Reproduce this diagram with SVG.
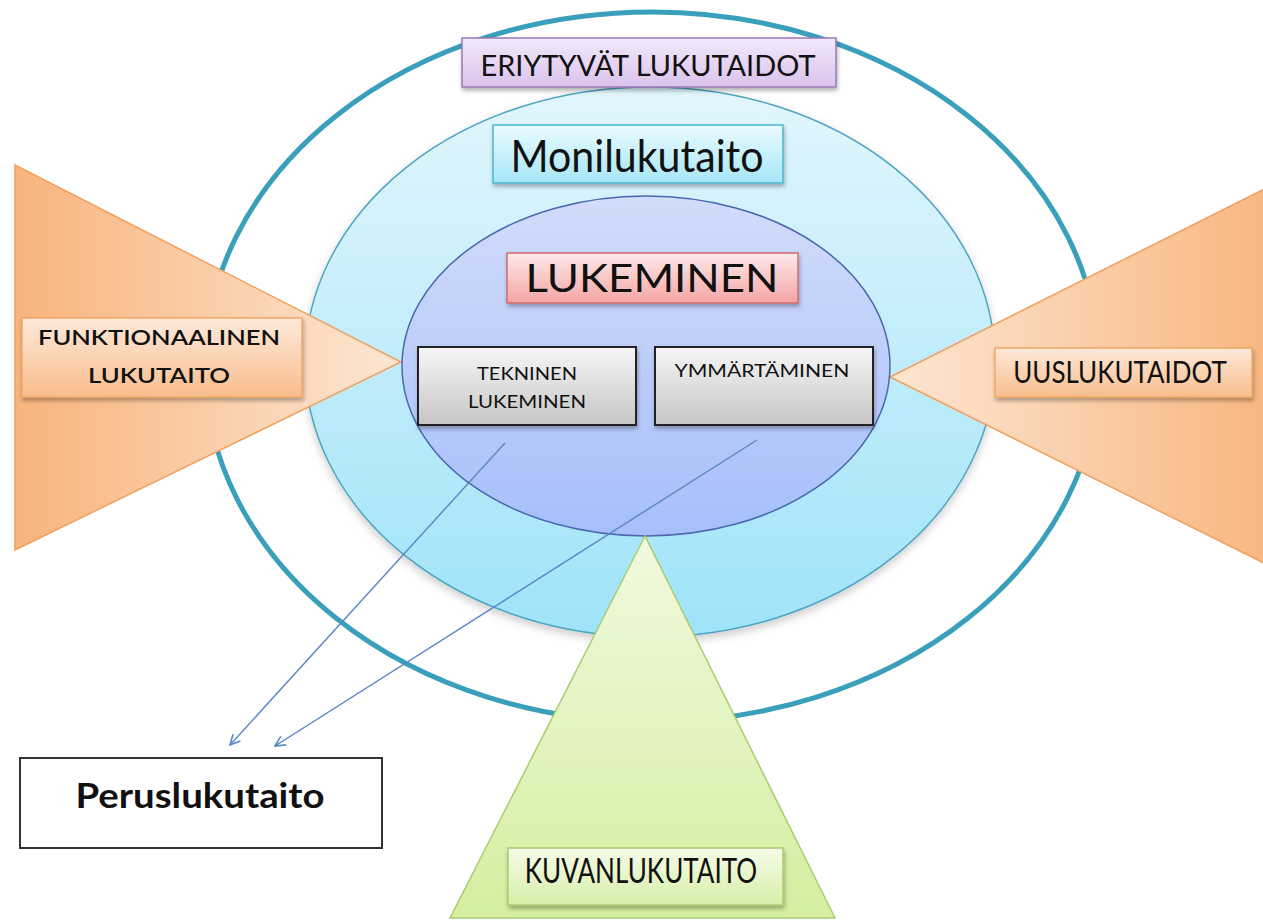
<svg xmlns="http://www.w3.org/2000/svg" width="1263" height="921" viewBox="0 0 1263 921">
<defs>
<style>
.lbl{font-family:Lato,"Open Sans","Liberation Sans",sans-serif;fill:#111;text-anchor:middle}
.box{stroke-width:1.5}
.conn{stroke:#5b86c5;stroke-width:1.4;fill:none}
</style>
<linearGradient id="gMid" x1="0" y1="0" x2="0" y2="1"><stop offset="0" stop-color="#e2f6fc"/><stop offset="1" stop-color="#9fe3f9"/></linearGradient>
<linearGradient id="gIn" x1="0" y1="0" x2="0" y2="1"><stop offset="0" stop-color="#d2dcfb"/><stop offset="1" stop-color="#a6bffa"/></linearGradient>
<linearGradient id="gOrL" x1="0" y1="0" x2="1" y2="0"><stop offset="0" stop-color="#f8b47c"/><stop offset="1" stop-color="#fde6d2"/></linearGradient>
<linearGradient id="gOrR" x1="0" y1="0" x2="1" y2="0"><stop offset="0" stop-color="#fde6d2"/><stop offset="1" stop-color="#f8b47c"/></linearGradient>
<linearGradient id="gGr" x1="0" y1="0" x2="0" y2="1"><stop offset="0" stop-color="#f1f9df"/><stop offset="1" stop-color="#d3efa0"/></linearGradient>
<linearGradient id="gPurp" x1="0" y1="0" x2="0" y2="1"><stop offset="0" stop-color="#f3e8fa"/><stop offset="1" stop-color="#d9c3ec"/></linearGradient>
<linearGradient id="gCyan" x1="0" y1="0" x2="0" y2="1"><stop offset="0" stop-color="#eafbff"/><stop offset="1" stop-color="#a6e6f7"/></linearGradient>
<linearGradient id="gPink" x1="0" y1="0" x2="0" y2="1"><stop offset="0" stop-color="#feeaea"/><stop offset="1" stop-color="#f4a4a4"/></linearGradient>
<linearGradient id="gGray" x1="0" y1="0" x2="0" y2="1"><stop offset="0" stop-color="#f6f6f6"/><stop offset="1" stop-color="#c6c6c6"/></linearGradient>
<linearGradient id="gOrBox" x1="0" y1="0" x2="0" y2="1"><stop offset="0" stop-color="#fee9da"/><stop offset="1" stop-color="#f8bd8c"/></linearGradient>
<linearGradient id="gGrBox" x1="0" y1="0" x2="0" y2="1"><stop offset="0" stop-color="#f6fbe8"/><stop offset="1" stop-color="#d6efa8"/></linearGradient>
<filter id="sh" x="-10%" y="-20%" width="120%" height="150%"><feDropShadow dx="1" dy="3" stdDeviation="2" flood-color="#000" flood-opacity="0.3"/></filter>
<filter id="shE" x="-10%" y="-10%" width="120%" height="125%"><feDropShadow dx="0" dy="4" stdDeviation="4" flood-color="#000" flood-opacity="0.2"/></filter>
<marker id="arr" viewBox="0 0 12 12" refX="11" refY="6" markerWidth="12" markerHeight="12" markerUnits="userSpaceOnUse" orient="auto"><path d="M1,1 L11,6 L1,11" fill="none" stroke="#5b86c5" stroke-width="1.6"/></marker>
</defs>

<g id="outer-ring">
<ellipse cx="652" cy="367" rx="447" ry="355" fill="none" stroke="#3a9fbb" stroke-width="5"/>
</g>
<g id="monilukutaito-ellipse">
<ellipse cx="650" cy="362" rx="345" ry="275" fill="url(#gMid)" stroke="#4ea4c2" stroke-width="1.5" filter="url(#shE)"/>
</g>
<g id="funktionaalinen-triangle">
<polygon points="15,165 15,550 401,362" fill="url(#gOrL)" stroke="#f0a060" stroke-width="1.5"/>
</g>
<g id="uuslukutaidot-triangle">
<polygon points="890,377 1290,176 1290,576" fill="url(#gOrR)" stroke="#f0a060" stroke-width="1.5"/>
</g>
<g id="lukeminen-ellipse">
<ellipse cx="646" cy="366" rx="244" ry="170" fill="url(#gIn)" stroke="#4a68b0" stroke-width="1.5"/>
</g>
<g id="kuvanlukutaito-triangle">
<polygon points="645,536 450,918 835,918" fill="url(#gGr)" stroke="#a8cc70" stroke-width="1.5"/>
</g>

<g id="eriytyvat">
<rect x="462" y="38" width="374" height="49" fill="url(#gPurp)" stroke="#9a78b8" class="box" filter="url(#sh)"/>
<text class="lbl" x="648" y="76" font-size="29" textLength="335" lengthAdjust="spacingAndGlyphs">ERIYTYVÄT LUKUTAIDOT</text>
</g>
<g id="monilukutaito">
<rect x="493" y="125" width="290" height="58" fill="url(#gCyan)" stroke="#4cb6d0" class="box" filter="url(#sh)"/>
<text class="lbl" x="637" y="172" font-size="44" textLength="253" lengthAdjust="spacingAndGlyphs">Monilukutaito</text>
</g>
<g id="lukeminen">
<rect x="507" y="253" width="291" height="50" fill="url(#gPink)" stroke="#d06c6c" class="box" filter="url(#sh)"/>
<text class="lbl" x="652" y="292" font-size="38" textLength="253" lengthAdjust="spacingAndGlyphs">LUKEMINEN</text>
</g>
<g id="tekninen">
<rect x="418" y="347" width="218" height="78" fill="url(#gGray)" stroke="#222" stroke-width="2" filter="url(#sh)"/>
<text class="lbl" x="527" y="380" font-size="17" textLength="100" lengthAdjust="spacingAndGlyphs">TEKNINEN</text>
<text class="lbl" x="527" y="408" font-size="17" textLength="118" lengthAdjust="spacingAndGlyphs">LUKEMINEN</text>
</g>
<g id="ymmartaminen">
<rect x="655" y="347" width="218" height="78" fill="url(#gGray)" stroke="#222" stroke-width="2" filter="url(#sh)"/>
<text class="lbl" x="762" y="377" font-size="17" textLength="175" lengthAdjust="spacingAndGlyphs">YMMÄRTÄMINEN</text>
</g>
<g id="funktionaalinen">
<rect x="22" y="318" width="280" height="79" fill="url(#gOrBox)" stroke="#f0a868" class="box" filter="url(#sh)"/>
<text class="lbl" x="159" y="345" font-size="21" font-weight="600" textLength="242" lengthAdjust="spacingAndGlyphs">FUNKTIONAALINEN</text>
<text class="lbl" x="159" y="383" font-size="21" font-weight="600" textLength="142" lengthAdjust="spacingAndGlyphs">LUKUTAITO</text>
</g>
<g id="uuslukutaidot">
<rect x="995" y="348" width="257" height="49" fill="url(#gOrBox)" stroke="#f0a868" class="box" filter="url(#sh)"/>
<text class="lbl" transform="translate(1120,383) scale(0.8,1)" x="0" y="0" font-size="31" textLength="267" lengthAdjust="spacingAndGlyphs">UUSLUKUTAIDOT</text>
</g>
<g id="kuvanlukutaito">
<rect x="508" y="848" width="275" height="57" fill="url(#gGrBox)" stroke="#a8cc70" class="box" filter="url(#sh)"/>
<text class="lbl" transform="translate(641,883) scale(0.75,1)" x="0" y="0" font-size="34" textLength="310" lengthAdjust="spacingAndGlyphs">KUVANLUKUTAITO</text>
</g>
<g id="peruslukutaito">
<rect x="20" y="758" width="362" height="90" fill="#fff" stroke="#333" stroke-width="2"/>
<text class="lbl" x="200" y="808" font-size="34" font-weight="bold" textLength="249" lengthAdjust="spacingAndGlyphs">Peruslukutaito</text>
</g>

<g id="connectors">
<line class="conn" x1="505" y1="443" x2="230" y2="745" marker-end="url(#arr)"/>
<line class="conn" x1="757" y1="440" x2="275" y2="746" marker-end="url(#arr)"/>
</g>
</svg>
